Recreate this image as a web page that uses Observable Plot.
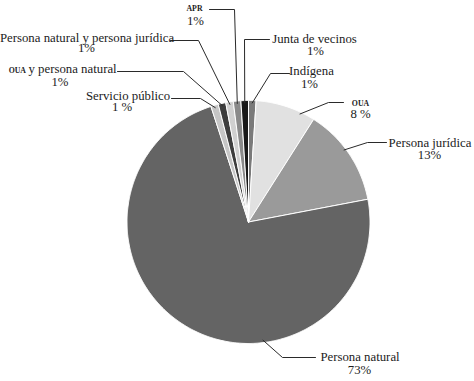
<!DOCTYPE html>
<html><head><meta charset="utf-8">
<script src="https://cdn.jsdelivr.net/npm/d3@7"></script>
<script src="https://cdn.jsdelivr.net/npm/@observablehq/plot@0.6"></script>
<style>body{margin:0;background:#fff} svg text{font-family:"Liberation Serif","Times New Roman",serif}</style>
</head><body><div id="chart"></div>
<script>
// ---- data ----
const categories = ["Indígena","OUA","Persona jurídica","Persona natural","Servicio público","OUA y persona natural","Persona natural y persona jurídica","APR","Junta de vecinos"];
const values = [1, 8, 13, 73, 1, 1, 1, 1, 1];
const pctLabels = ["1%","8 %","13%","73%","1 %","1%","1%","1%","1%"];
const colors = ["#7a7a7a","#e1e1e1","#9a9a9a","#646464","#c6c6c6","#3d3d3d","#d0d0d0","#8a8a8a","#181818"];

// ---- layout (pixels) ----
const W = 474, H = 381, CX = 248, CY = 221.5, R = 121.5;
// name label: [x, baseline]; pct label: [x, baseline]
const namePos = [[311,74],[360,105],[429.5,146],[359.5,360],[127.5,99],[60,72],[86.5,41],[194,10.5],[314,42]];
const pctPos  = [[309,87],[360,117],[429,158],[359,373],[121.5,110],[59.5,85],[86,51],[195,24],[315,54]];
// leader: label end, elbow
const leaderEnds = [[[289,73],[270,73]],[[343,102],[328,102]],[[386,142],[367,142]],[[315,357],[282,357]],
  [[171,98],[200,98]],[[117,71],[183,71]],[[170,40],[198,40]],[[209,9],[234,9]],[[269,39],[244,39]]];
// where the leader touches its slice: [fraction along slice, fraction of radius]
const leaderTouch = [[0.5,0.98],[0.76,0.985],[0.44,0.985],[0.357,0.98],[0.5,0.98],[0.5,0.98],[0.5,0.98],[0.5,0.98],[0.5,0.98]];

// ---- derived geometry ----
const arcs = d3.pie().sort(null).value(d => d)(values);
const slicePts = [];
arcs.forEach((a, i) => {
  const cat = categories[i];
  const n = Math.max(2, Math.ceil((a.endAngle - a.startAngle) / (Math.PI / 360)));
  slicePts.push({cat, x: CX, y: CY});
  for (let k = 0; k <= n; k++) {
    const ang = a.startAngle + (a.endAngle - a.startAngle) * k / n;
    slicePts.push({cat, x: CX + R * Math.sin(ang), y: CY - R * Math.cos(ang)});
  }
  slicePts.push({cat, x: CX, y: CY});
});
const leaders = [];
arcs.forEach((a, i) => {
  const cat = categories[i];
  const [f, rf] = leaderTouch[i];
  const ang = a.startAngle + (a.endAngle - a.startAngle) * f;
  leaders.push({cat, x: leaderEnds[i][0][0], y: leaderEnds[i][0][1]});
  leaders.push({cat, x: leaderEnds[i][1][0], y: leaderEnds[i][1][1]});
  leaders.push({cat, x: CX + R * rf * Math.sin(ang), y: CY - R * rf * Math.cos(ang)});
});
// name texts, acronyms set in small caps
const centerTexts = [], startTexts = [], smallTexts = [], smallEndTexts = [];
categories.forEach((c, i) => {
  const [x, y] = namePos[i];
  const m = c.match(/^([A-Z]{3})(.*)$/);
  if (m && m[2].length) {
    smallEndTexts.push({text: m[1], x: x - 34.5, y});
    startTexts.push({text: m[2].trim(), x: x - 32, y});
  } else if (m) {
    smallTexts.push({text: m[1], x, y});
  } else {
    centerTexts.push({text: c, x, y});
  }
});
const pctTexts = pctLabels.map((t, i) => ({text: t, x: pctPos[i][0], y: pctPos[i][1]}));

const ink = "#1c1c1c";
const FF = "Liberation Serif";
const chart = Plot.plot({
  width: W, height: H, margin: 0,
  x: {domain: [0, W], range: [0, W], axis: null},
  y: {domain: [0, H], range: [0, H], axis: null},
  color: {domain: categories, range: colors},
  style: {fontFamily: FF, background: "white", color: ink},
  marks: [
    Plot.line(slicePts, {x: "x", y: "y", z: "cat", fill: "cat", stroke: "white", strokeWidth: 1, curve: "linear"}),
    Plot.line(leaders, {x: "x", y: "y", z: "cat", stroke: "#2a2a2a", strokeWidth: 1, curve: "linear"}),
    Plot.text(centerTexts, {x: "x", y: "y", text: "text", textAnchor: "middle", lineAnchor: "bottom", fontSize: 12.8, fontFamily: FF, fill: ink}),
    Plot.text(startTexts, {x: "x", y: "y", text: "text", textAnchor: "start", lineAnchor: "bottom", fontSize: 12.8, fontFamily: FF, fill: ink}),
    Plot.text(smallTexts, {x: "x", y: "y", text: "text", textAnchor: "middle", lineAnchor: "bottom", fontSize: 7.8, fontWeight: "bold", fontFamily: FF, fill: ink}),
    Plot.text(smallEndTexts, {x: "x", y: "y", text: "text", textAnchor: "end", lineAnchor: "bottom", fontSize: 7.8, fontWeight: "bold", fontFamily: FF, fill: ink}),
    Plot.text(pctTexts, {x: "x", y: "y", text: "text", textAnchor: "middle", lineAnchor: "bottom", fontSize: 12.8, fontFamily: FF, fill: ink})
  ]
});
document.getElementById("chart").appendChild(chart);
</script>
</body></html>
